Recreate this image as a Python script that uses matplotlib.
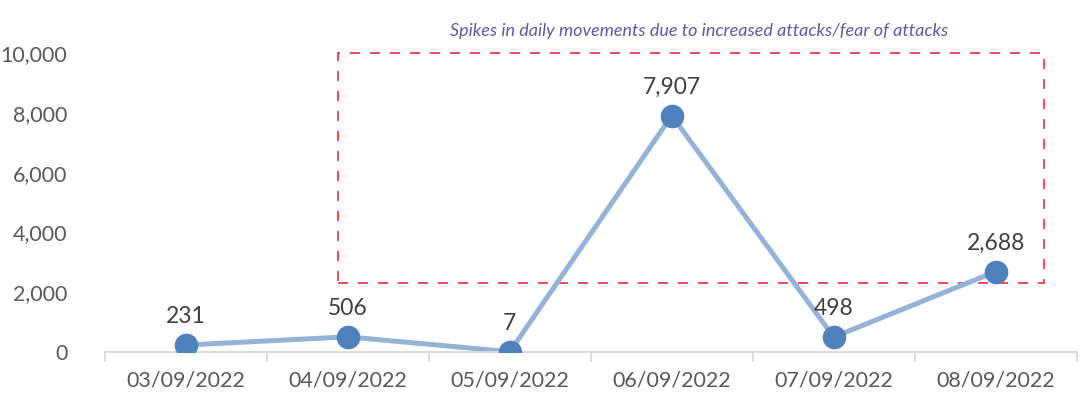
import matplotlib
matplotlib.use("Agg")
import matplotlib.pyplot as plt
from matplotlib.patches import Rectangle

dates = ["03/09/2022", "04/09/2022", "05/09/2022", "06/09/2022", "07/09/2022", "08/09/2022"]
values = [231, 506, 7, 7907, 498, 2688]
value_labels = ["231", "506", "7", "7,907", "498", "2,688"]
y_ticks = [0, 2000, 4000, 6000, 8000, 10000]
y_tick_labels = ["0", "2,000", "4,000", "6,000", "8,000", "10,000"]
note = "Spikes in daily movements due to increased attacks/fear of attacks"

plt.rcParams['font.family'] = ['Lato', 'DejaVu Sans']

fig = plt.figure(figsize=(10.81, 4.05), dpi=100)
ax = fig.add_axes([0.097, 0.131, 0.899, 0.738])

x = list(range(len(dates)))
ax.plot(x, values, color="#95b3d7", lw=3.6, zorder=2, solid_capstyle="round")
ax.plot(x, values, ls="none", marker="o", ms=16, color="#4f81bd", zorder=3)

for xi, v, lab in zip(x, values, value_labels):
    ax.annotate(lab, (xi, v), xytext=(0, 13), textcoords="offset points",
                ha="center", va="bottom", fontsize=16.5, color="#404040", zorder=4)

ax.set_xlim(-0.5, 5.5)
ax.set_ylim(0, 10000)
ax.set_yticks(y_ticks)
ax.set_yticklabels(y_tick_labels)
ax.set_xticks(x)
ax.set_xticklabels(dates)
ax.set_xticks([i + 0.5 for i in range(-1, len(dates))], minor=True)
ax.tick_params(axis="x", which="major", length=0, pad=13, labelsize=15.5, labelcolor="#595959")
ax.tick_params(axis="x", which="minor", length=7, width=1.3, color="#d9d9d9")
ax.tick_params(axis="y", length=0, pad=27, labelsize=15.5, labelcolor="#595959")
for s in ["top", "right", "left"]:
    ax.spines[s].set_visible(False)
ax.spines["bottom"].set_color("#d9d9d9")
ax.spines["bottom"].set_linewidth(1.3)

rect = Rectangle((0.94, 2300), 5.30 - 0.94, 10000 - 2300, fill=False,
                 edgecolor="#ee2c3a", lw=1.2, ls=(0, (6, 6)), zorder=1, clip_on=False)
ax.add_patch(rect)

ax.text(3.17, 10750, note, ha="center", va="center", fontsize=13,
        style="italic", color="#5a5aa8")

fig.savefig("out.png", dpi=100)
